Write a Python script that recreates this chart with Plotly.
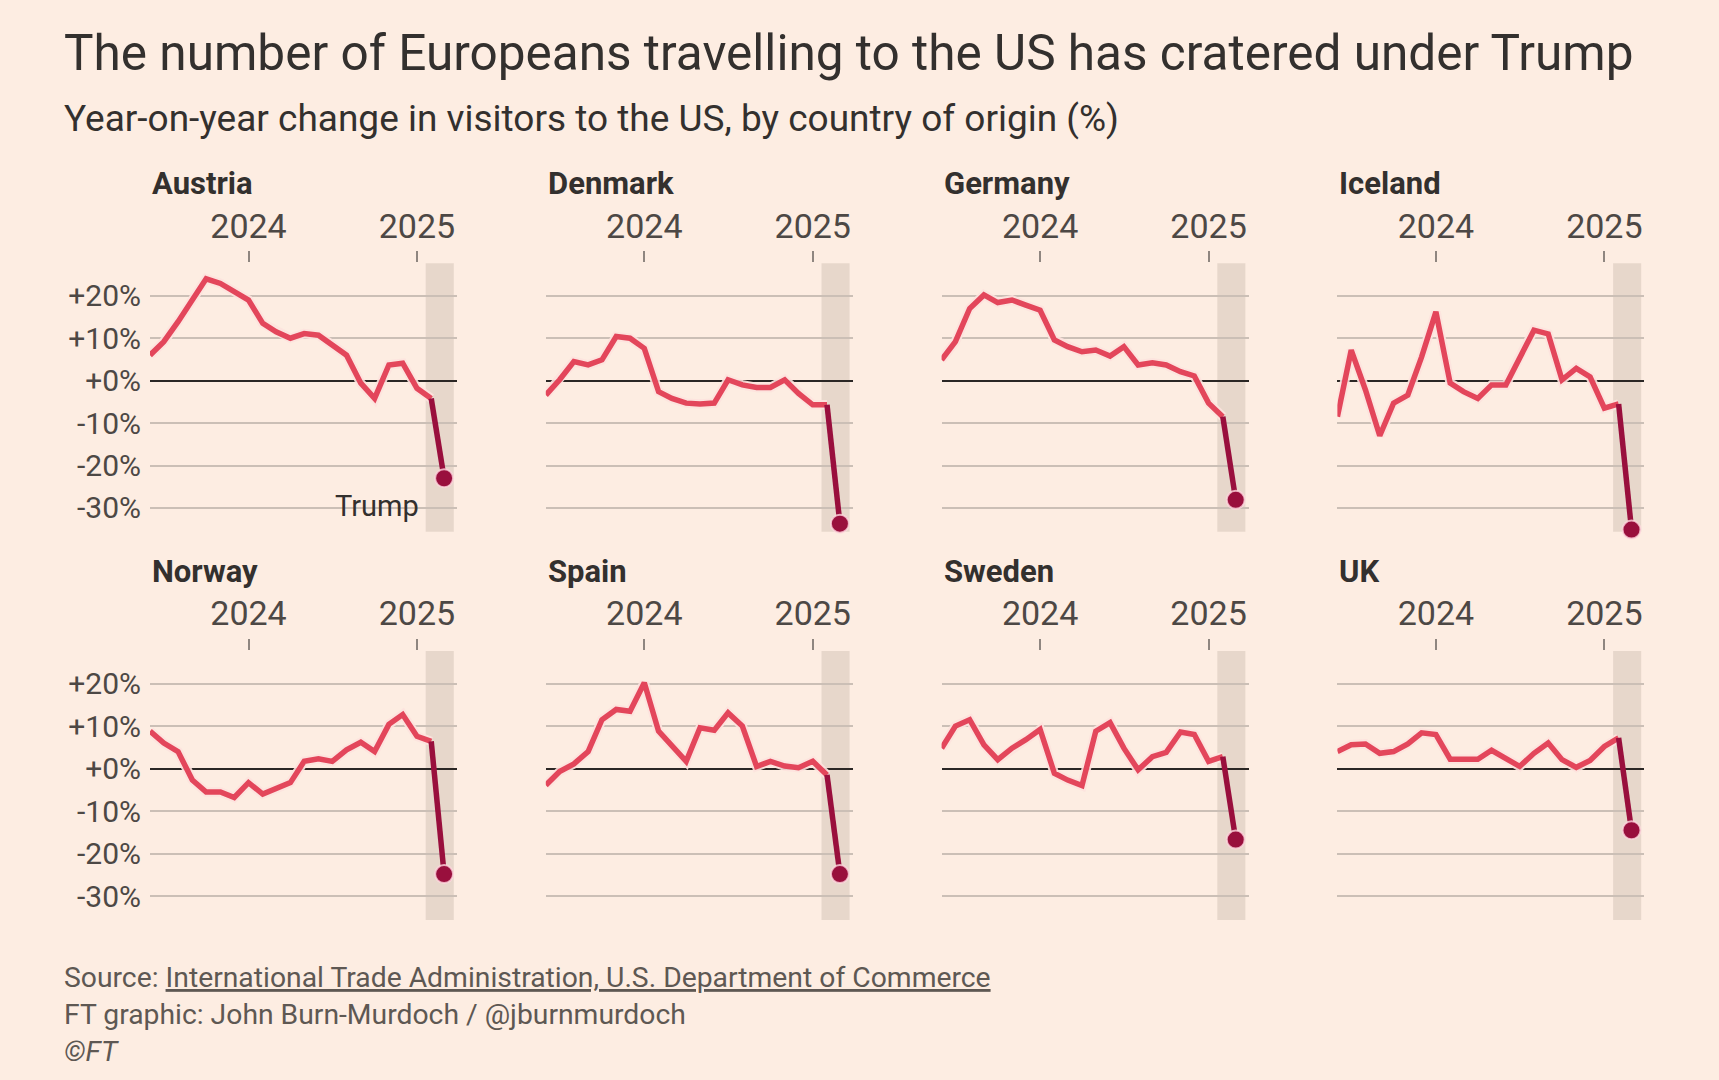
import plotly.graph_objects as go

# ---------------- data ----------------
months = ["2023-06-01", "2023-07-01", "2023-08-01", "2023-09-01", "2023-10-01", "2023-11-01",
          "2023-12-01", "2024-01-01", "2024-02-01", "2024-03-01", "2024-04-01", "2024-05-01",
          "2024-06-01", "2024-07-01", "2024-08-01", "2024-09-01", "2024-10-01", "2024-11-01",
          "2024-12-01", "2025-01-01", "2025-02-01", "2025-03-01"]

countries = ["Austria", "Denmark", "Germany", "Iceland", "Norway", "Spain", "Sweden", "UK"]

austria = [6.0, 9.2, 13.9, 19.0, 24.0, 22.9, 20.9, 19.0, 13.5, 11.5, 10.0, 11.1,
           10.7, 8.4, 6.0, -0.6, -4.2, 3.7, 4.1, -1.8, -4.2, -23.0]
denmark = [-3.4, 0.2, 4.5, 3.7, 4.9, 10.4, 10.0, 7.6, -2.6, -4.2, -5.3, -5.5,
           -5.3, 0.2, -1.0, -1.6, -1.6, 0.2, -3.0, -5.7, -5.7, -33.7]
germany = [4.9, 9.2, 17.0, 20.2, 18.4, 19.0, 17.8, 16.6, 9.6, 8.0, 6.8, 7.2,
           5.8, 8.0, 3.7, 4.2, 3.7, 2.1, 1.1, -5.3, -8.5, -28.1]
iceland = [-8.5, 7.2, -2.2, -13.0, -5.3, -3.4, 5.6, 16.2, -0.6, -2.6, -4.2, -1.0,
           -1.0, 5.6, 11.9, 11.0, 0.2, 2.9, 0.9, -6.5, -5.5, -35.1]
norway = [8.8, 6.0, 4.0, -2.7, -5.5, -5.5, -6.8, -3.3, -6.0, -4.7, -3.3, 1.7,
          2.3, 1.7, 4.4, 6.2, 4.0, 10.4, 12.7, 7.6, 6.4, -24.8]
spain = [-3.9, -0.7, 1.1, 4.0, 11.5, 13.9, 13.5, 20.2, 8.8, 5.2, 1.7, 9.6,
         9.0, 13.1, 10.0, 0.5, 1.7, 0.6, 0.2, 1.7, -1.5, -24.8]
sweden = [4.8, 10.0, 11.5, 5.6, 2.1, 4.8, 6.8, 9.2, -1.1, -2.7, -4.0, 8.8,
          10.8, 4.8, -0.3, 2.8, 3.8, 8.6, 8.0, 1.7, 2.8, -16.7]
uk = [4.0, 5.6, 5.8, 3.6, 4.0, 5.8, 8.4, 8.0, 2.2, 2.2, 2.2, 4.3,
      2.5, 0.5, 3.6, 6.0, 2.1, 0.3, 1.9, 5.2, 7.2, -14.5]

series = [austria, denmark, germany, iceland, norway, spain, sweden, uk]

y_tickvals = [-30, -20, -10, 0, 10, 20]
y_ticktext = ["-30%", "-20%", "-10%", "+0%", "+10%", "+20%"]
x_tickvals = ["2024-01-01", "2025-01-01"]
x_ticktext = ["2024", "2025"]

title = "The number of Europeans travelling to the US has cratered under Trump"
subtitle = "Year-on-year change in visitors to the US, by country of origin (%)"
source_line = "Source: <u>International Trade Administration, U.S. Department of Commerce</u>"
credit_line = "FT graphic: John Burn-Murdoch / @jburnmurdoch"
copyright_line = "<i>©FT</i>"
trump_label = "Trump"
trump_date = "2025-01-20"

# ---------------- style ----------------
W, H = 1719, 1080
BG = "#fdede2"
TEXT = "#33302e"
MUTED = "#4d4845"
GRID = "#cbbfb6"
RED = "#e3465b"
CLARET = "#990f3d"
SHADE = "rgba(120,100,85,0.16)"
FONT = "Roboto"

col_x0 = [150, 545.8, 941.6, 1337.4]
panel_w = 307
row_top = [263.3, 651]
row_bot = [531.7, 920]
title_y = [183.5, 571]

x_range = ["2023-06-01", "2025-03-29"]
shade_end = "2025-03-22"
y_range = [-35.6, 27.65]

fig = go.Figure()
layout = dict(
    width=W, height=H,
    margin=dict(l=0, r=0, t=0, b=0),
    paper_bgcolor=BG, plot_bgcolor="rgba(0,0,0,0)",
    showlegend=False,
    font=dict(family=FONT, color=TEXT),
)
shapes = []
annotations = []

for k, (name, vals) in enumerate(zip(countries, series)):
    r, c = divmod(k, 4)
    sfx = "" if k == 0 else str(k + 1)
    xa, ya = "x" + sfx, "y" + sfx
    x0 = col_x0[c]
    layout["xaxis" + sfx] = dict(
        domain=[x0 / W, (x0 + panel_w) / W],
        anchor=ya, side="top", type="date", range=x_range,
        tickvals=x_tickvals, ticktext=x_ticktext,
        ticks="outside", ticklen=11, tickwidth=1.5, tickcolor="#8f8680",
        tickfont=dict(size=34, color=MUTED, family=FONT),
        showgrid=False, zeroline=False, showline=False, fixedrange=True,
    )
    layout["yaxis" + sfx] = dict(
        domain=[1 - row_bot[r] / H, 1 - row_top[r] / H],
        anchor=xa, range=y_range,
        tickvals=y_tickvals, ticktext=y_ticktext,
        showticklabels=(c == 0), ticks="", ticklabelstandoff=8,
        tickfont=dict(size=30, color=MUTED, family=FONT),
        showgrid=True, gridcolor=GRID, gridwidth=1.5,
        zeroline=True, zerolinecolor="#2b2725", zerolinewidth=2,
        showline=False, fixedrange=True,
    )
    # Trump-era shading
    shapes.append(dict(type="rect", xref=xa, yref=ya + " domain",
                       x0=trump_date, x1=shade_end, y0=0, y1=1,
                       fillcolor=SHADE, line=dict(width=0), layer="below"))
    # halo, main line, final segment, end dot
    fig.add_trace(go.Scatter(x=months[:-1], y=vals[:-1], xaxis=xa, yaxis=ya,
                             mode="lines", line=dict(color="rgba(253,226,222,0.9)", width=9.5),
                             hoverinfo="skip"))
    fig.add_trace(go.Scatter(x=months[:-1], y=vals[:-1], xaxis=xa, yaxis=ya,
                             mode="lines", line=dict(color=RED, width=5.5),
                             name=name))
    fig.add_trace(go.Scatter(x=months[-2:], y=vals[-2:], xaxis=xa, yaxis=ya,
                             mode="lines", line=dict(color=CLARET, width=5.5),
                             name=name))
    fig.add_trace(go.Scatter(x=months[-1:], y=vals[-1:], xaxis=xa, yaxis=ya,
                             mode="markers", cliponaxis=False,
                             marker=dict(color=CLARET, size=18,
                                         line=dict(color="rgba(255,215,222,0.8)", width=2)),
                             name=name))
    annotations.append(dict(text="<b>" + name + "</b>", xref="paper", yref="paper",
                            x=x0 / W, y=1 - title_y[r] / H, xanchor="left", yanchor="middle",
                            showarrow=False, font=dict(size=31, color=TEXT, family=FONT)))

# Trump label in first panel
annotations.append(dict(text=trump_label, xref="paper", yref="paper",
                        x=421 / W, y=1 - 506 / H, xanchor="right", yanchor="middle",
                        showarrow=False, font=dict(size=29, color=TEXT, family=FONT)))

# titles and footer
annotations += [
    dict(text=title, xref="paper", yref="paper", x=62 / W, y=1 - 53 / H,
         xanchor="left", yanchor="middle", showarrow=False,
         font=dict(size=49.5, color=TEXT, family=FONT)),
    dict(text=subtitle, xref="paper", yref="paper", x=62 / W, y=1 - 119 / H,
         xanchor="left", yanchor="middle", showarrow=False,
         font=dict(size=37, color=TEXT, family=FONT)),
    dict(text=source_line, xref="paper", yref="paper", x=62 / W, y=1 - 977 / H,
         xanchor="left", yanchor="middle", showarrow=False,
         font=dict(size=28.3, color="#5e5853", family=FONT)),
    dict(text=credit_line, xref="paper", yref="paper", x=62 / W, y=1 - 1014.5 / H,
         xanchor="left", yanchor="middle", showarrow=False,
         font=dict(size=28.3, color="#5e5853", family=FONT)),
    dict(text=copyright_line, xref="paper", yref="paper", x=62 / W, y=1 - 1051 / H,
         xanchor="left", yanchor="middle", showarrow=False,
         font=dict(size=28.3, color="#5e5853", family=FONT)),
]

layout["shapes"] = shapes
layout["annotations"] = annotations
fig.update_layout(**layout)

fig.write_html("out.html",
               config={"displayModeBar": False},
               post_script="document.body.style.margin='0';document.body.style.background='" + BG + "';")
